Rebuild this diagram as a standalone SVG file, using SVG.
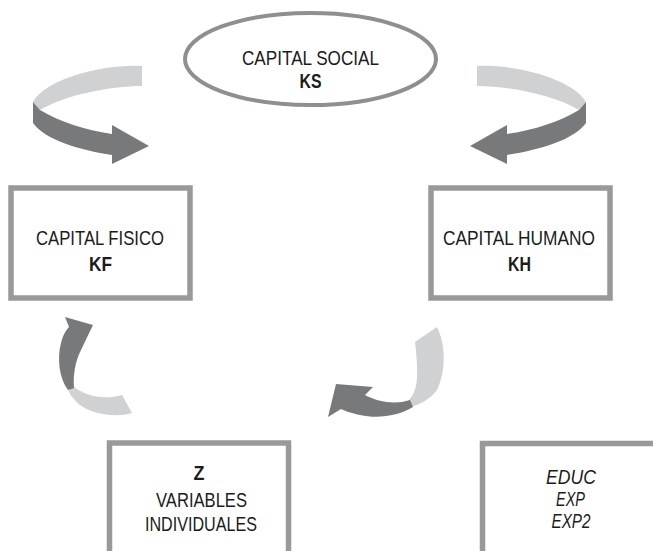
<svg xmlns="http://www.w3.org/2000/svg" width="653" height="551" viewBox="0 0 653 551">
<defs>
<style>
.bg{fill:#ffffff}
.box{fill:#ffffff;stroke:#98999b;stroke-width:5.5}
.oval{fill:#ffffff;stroke:#8e8f91;stroke-width:4}
.t{font-family:"Liberation Sans Narrow","Liberation Sans",Arial,sans-serif;font-size:21px;fill:#1c1c1c;text-anchor:middle}
.b{font-weight:bold}
.i{font-style:italic}
.light{fill:#d0d1d3}
.dark{fill:#78797b}
</style>
<g id="arrowTop">
<path class="light" d="M142,66 C100,64 45,80 33,102 L40,110 C65,95 110,86 142,86 Z"/>
<path class="dark" d="M33,102 L40,110 C60,122 85,130 112,134 L112,125 L149,146 L112,164 L112,155 C80,150 45,140 33,123 Z"/>
</g>
</defs>
<rect class="bg" x="0" y="0" width="653" height="551"/>

<g id="connectors">
<use id="arrow-ks-kf" href="#arrowTop"/>
<use id="arrow-ks-kh" href="#arrowTop" transform="translate(619,0) scale(-1,1)"/>
<g id="arrow-kh-z">
<path class="light" d="M415,342 L437,327 C446,345 446,372 437,390 C430,399 420,405 410,407 L407,402 C414,396 418,385 417,370 C417,360 416,350 415,342 Z"/>
<path class="dark" d="M336,384 L373,387 L365,395 C378,402 395,405 410,400 L413,407 C398,416 378,419 360,415 C350,413 343,410 341,409 L328,417 Z"/>
</g>
<g id="arrow-z-kf">
<path class="light" d="M72,385 C85,397 105,400 122,395 L132,413 C115,418 92,414 80,405 C72,398 68,392 68,388 Z"/>
<path class="dark" d="M65,317 L93,325 L81,350 C75,362 73,375 74,388 L68,390 C59,378 57,358 61,343 C63,335 66,330 69,327 Z"/>
</g>
</g>

<g id="node-ks">
<ellipse class="oval" cx="310.5" cy="59" rx="125.5" ry="46"/>
<text class="t" x="310.5" y="65" textLength="137" lengthAdjust="spacingAndGlyphs">CAPITAL SOCIAL</text>
<text class="t b" x="310.5" y="88" textLength="22" lengthAdjust="spacingAndGlyphs">KS</text>
</g>

<g id="node-kf">
<rect class="box" x="11" y="188" width="179" height="110"/>
<text class="t" x="100" y="245" textLength="128" lengthAdjust="spacingAndGlyphs">CAPITAL FISICO</text>
<text class="t b" x="100.5" y="271" textLength="23" lengthAdjust="spacingAndGlyphs">KF</text>
</g>

<g id="node-kh">
<rect class="box" x="431" y="188" width="179" height="110"/>
<text class="t" x="519" y="245" textLength="152" lengthAdjust="spacingAndGlyphs">CAPITAL HUMANO</text>
<text class="t b" x="519.5" y="271" textLength="23" lengthAdjust="spacingAndGlyphs">KH</text>
</g>

<g id="node-z">
<rect class="box" x="109.5" y="443" width="179" height="130"/>
<text class="t b" x="199" y="480" textLength="11" lengthAdjust="spacingAndGlyphs">Z</text>
<text class="t" x="201.5" y="507" textLength="91" lengthAdjust="spacingAndGlyphs">VARIABLES</text>
<text class="t" x="201" y="531" textLength="112" lengthAdjust="spacingAndGlyphs">INDIVIDUALES</text>
</g>

<g id="node-vars">
<rect class="box" x="482.5" y="443.5" width="200" height="130"/>
<text class="t i" x="571" y="484" textLength="50" lengthAdjust="spacingAndGlyphs">EDUC</text>
<text class="t i" x="570.5" y="506" textLength="29" lengthAdjust="spacingAndGlyphs">EXP</text>
<text class="t i" x="571" y="528" textLength="39" lengthAdjust="spacingAndGlyphs">EXP2</text>
</g>
</svg>
